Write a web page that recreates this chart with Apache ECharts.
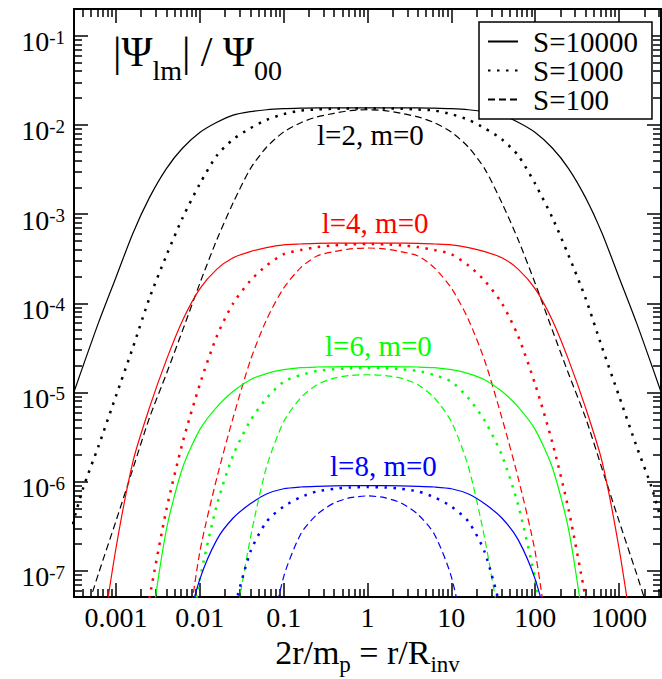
<!DOCTYPE html>
<html>
<head>
<meta charset="utf-8">
<script src="https://cdn.jsdelivr.net/npm/echarts@6/dist/echarts.min.js"></script>
<style>
html,body{margin:0;padding:0;background:#fff;}
#chart{width:662px;height:679px;}
</style>
</head>
<body>
<div id="chart"></div>
<script>
// ---------- data ----------
const xs = [0.00025, 0.0004, 0.000625, 0.001, 0.0016, 0.0025, 0.004, 0.00625, 0.01, 0.016, 0.025, 0.04, 0.0625, 0.1, 0.16, 0.25, 0.4, 0.625,
  1, 1.6, 2.5, 4, 6.25, 10, 16, 25, 40, 62.5, 100, 160, 250, 400, 625, 1000, 1600, 2500, 4000];

// l=2, m=0
const l2_S10000 = [5.37e-6, 1.91e-5, 6.19e-5, 1.95e-4, 6.15e-4, 1.52e-3, 3.24e-3, 5.51e-3, 8.22e-3, 0.0107, 0.0129, 0.0141, 0.0148, 0.0152, 0.0154, 0.0155, 0.0155, 0.0155,
  0.0155, 0.0155, 0.0155, 0.0155, 0.0154, 0.0152, 0.0148, 0.0141, 0.0129, 0.0107, 8.22e-3, 5.51e-3, 3.24e-3, 1.52e-3, 6.15e-4, 1.95e-4, 6.19e-5, 1.91e-5, 5.37e-6];
const l2_S1000 = [1.70e-7, 8.09e-7, 2.56e-6, 9.12e-6, 3.23e-5, 1.13e-4, 3.44e-4, 9.12e-4, 2.18e-3, 4.55e-3, 6.90e-3, 9.18e-3, 0.0114, 0.0132, 0.0145, 0.0149, 0.0152, 0.0153,
  0.0153, 0.0153, 0.0152, 0.0149, 0.0145, 0.0132, 0.0114, 9.18e-3, 6.90e-3, 4.55e-3, 2.18e-3, 9.12e-4, 3.44e-4, 1.13e-4, 3.23e-5, 9.12e-6, 2.56e-6, 8.09e-7, 1.70e-7];
const l2_S100 = [null, 2.57e-8, 9.55e-8, 3.61e-7, 1.41e-6, 5.15e-6, 1.62e-5, 5.00e-5, 1.67e-4, 5.19e-4, 1.34e-3, 3.22e-3, 5.62e-3, 8.32e-3, 0.0106, 0.0123, 0.0135, 0.0145,
  0.0148, 0.0145, 0.0135, 0.0123, 0.0106, 8.32e-3, 5.62e-3, 3.22e-3, 1.34e-3, 5.19e-4, 1.67e-4, 5.00e-5, 1.62e-5, 5.15e-6, 1.41e-6, 3.61e-7, 9.55e-8, 2.57e-8, null];

// l=4, m=0
const l4_S10000 = [null, null, 1.0e-8, 1.78e-7, 1.70e-6, 6.67e-6, 2.32e-5, 6.46e-5, 1.45e-4, 2.42e-4, 3.24e-4, 3.80e-4, 4.21e-4, 4.52e-4, 4.62e-4, 4.70e-4, 4.72e-4, 4.73e-4,
  4.73e-4, 4.73e-4, 4.72e-4, 4.70e-4, 4.62e-4, 4.52e-4, 4.21e-4, 3.80e-4, 3.24e-4, 2.42e-4, 1.45e-4, 6.46e-5, 2.32e-5, 6.67e-6, 1.70e-6, 1.78e-7, 1.0e-8, null, null];
const l4_S1000 = [null, null, null, null, 5.0e-9, 4.90e-8, 4.86e-7, 2.75e-6, 1.23e-5, 4.30e-5, 1.0e-4, 1.79e-4, 2.65e-4, 3.55e-4, 3.96e-4, 4.27e-4, 4.47e-4, 4.59e-4,
  4.62e-4, 4.59e-4, 4.47e-4, 4.27e-4, 3.96e-4, 3.55e-4, 2.65e-4, 1.79e-4, 1.0e-4, 4.30e-5, 1.23e-5, 2.75e-6, 4.86e-7, 4.90e-8, 5.0e-9, null, null, null, null];
const l4_S100 = [null, null, null, null, null, null, null, 7.9e-9, 1.62e-7, 1.11e-6, 5.22e-6, 2.27e-5, 6.56e-5, 1.48e-4, 2.51e-4, 3.39e-4, 3.80e-4, 4.07e-4,
  4.17e-4, 4.07e-4, 3.80e-4, 3.39e-4, 2.51e-4, 1.48e-4, 6.56e-5, 2.27e-5, 5.22e-6, 1.11e-6, 1.62e-7, 7.9e-9, null, null, null, null, null, null, null];

// l=6, m=0
const l6_S10000 = [null, null, null, null, null, 1.70e-8, 2.91e-7, 1.44e-6, 3.83e-6, 6.90e-6, 1.03e-5, 1.39e-5, 1.63e-5, 1.80e-5, 1.90e-5, 1.93e-5, 1.94e-5, 1.95e-5,
  1.95e-5, 1.95e-5, 1.94e-5, 1.93e-5, 1.90e-5, 1.80e-5, 1.63e-5, 1.39e-5, 1.03e-5, 6.90e-6, 3.83e-6, 1.44e-6, 2.91e-7, 1.70e-8, null, null, null, null, null];
const l6_S1000 = [null, null, null, null, null, null, null, 6.3e-9, 7.94e-8, 5.50e-7, 1.98e-6, 4.82e-6, 8.61e-6, 1.32e-5, 1.57e-5, 1.74e-5, 1.82e-5, 1.87e-5,
  1.88e-5, 1.87e-5, 1.82e-5, 1.74e-5, 1.57e-5, 1.32e-5, 8.61e-6, 4.82e-6, 1.98e-6, 5.50e-7, 7.94e-8, 6.3e-9, null, null, null, null, null, null, null];
const l6_S100 = [null, null, null, null, null, null, null, null, null, null, 1.86e-8, 2.30e-7, 1.46e-6, 4.70e-6, 8.73e-6, 1.22e-5, 1.45e-5, 1.55e-5,
  1.58e-5, 1.55e-5, 1.45e-5, 1.22e-5, 8.73e-6, 4.70e-6, 1.46e-6, 2.30e-7, 1.86e-8, null, null, null, null, null, null, null, null, null, null];

// l=8, m=0
const l8_S10000 = [null, null, null, null, null, null, null, 1.58e-8, 8.02e-8, 2.24e-7, 3.91e-7, 5.64e-7, 7.26e-7, 8.32e-7, 8.71e-7, 8.87e-7, 8.97e-7, 9.02e-7,
  9.02e-7, 9.02e-7, 8.97e-7, 8.87e-7, 8.71e-7, 8.32e-7, 7.26e-7, 5.64e-7, 3.91e-7, 2.24e-7, 8.02e-8, 1.58e-8, null, null, null, null, null, null, null];
const l8_S1000 = [null, null, null, null, null, null, null, null, null, null, 3.39e-8, 1.62e-7, 3.56e-7, 5.26e-7, 6.70e-7, 7.76e-7, 8.32e-7, 8.61e-7,
  8.71e-7, 8.61e-7, 8.32e-7, 7.76e-7, 6.70e-7, 5.26e-7, 3.56e-7, 1.62e-7, 3.39e-8, null, null, null, null, null, null, null, null, null, null];
const l8_S100 = [null, null, null, null, null, null, null, null, null, null, null, null, 1.12e-8, 8.57e-8, 2.59e-7, 4.29e-7, 5.77e-7, 6.61e-7,
  6.92e-7, 6.61e-7, 5.77e-7, 4.29e-7, 2.59e-7, 8.57e-8, 1.12e-8, null, null, null, null, null, null, null, null, null, null, null, null];

const sNames = ['S=10000', 'S=1000', 'S=100'];
const curveLabels = ['l=2, m=0', 'l=4, m=0', 'l=6, m=0', 'l=8, m=0'];

const xMajor = [0.001, 0.01, 0.1, 1, 10, 100, 1000];
const xTickLabels = ['0.001', '0.01', '0.1', '1', '10', '100', '1000'];
const yMajor = [1e-7, 1e-6, 1e-5, 1e-4, 1e-3, 1e-2, 1e-1];
const yExponents = ['-7', '-6', '-5', '-4', '-3', '-2', '-1'];

// ---------- layout / style ----------
const XMIN = 3.16228e-4, XMAX = 3162.28, YMIN = 5.09e-8, YMAX = 0.1995;
const SERIF = 'Liberation Serif';
const colors = ['#000000', '#ff0000', '#00ff00', '#0000ff'];
const lineTypes = [
  { type: 'solid', width: 1.2 },
  { type: [2.5, 6.5], width: 2.5 },
  { type: [7, 4], width: 1.2 }
];

function minorTicks(lo, hi, eMin, eMax) {
  const out = [];
  for (let e = eMin; e <= eMax; e++) {
    for (let k = 2; k <= 9; k++) {
      const v = k * Math.pow(10, e);
      if (v > lo && v < hi) out.push(v);
    }
  }
  return out;
}
const xMinor = minorTicks(XMIN, XMAX, -4, 3);
const yMinor = minorTicks(YMIN, YMAX, -8, -1);

function pairs(ys) {
  const out = [];
  xs.forEach((x, i) => { if (ys[i] != null) out.push([x, ys[i]]); });
  return out;
}

const groups = [
  [l2_S10000, l2_S1000, l2_S100],
  [l4_S10000, l4_S1000, l4_S100],
  [l6_S10000, l6_S1000, l6_S100],
  [l8_S10000, l8_S1000, l8_S100]
];

const series = [];
groups.forEach((g, li) => {
  g.forEach((ys, si) => {
    series.push({
      type: 'line',
      name: sNames[si],
      data: pairs(ys),
      xAxisIndex: 0,
      yAxisIndex: 0,
      showSymbol: false,
      symbol: 'none',
      smooth: 0.25,
      clip: true,
      lineStyle: { color: colors[li], width: lineTypes[si].width, type: lineTypes[si].type },
      itemStyle: { color: colors[li] },
      emphasis: { disabled: true },
      z: 2
    });
  });
});

function xLabel(v) {
  const i = xMajor.findIndex(t => Math.abs(Math.log10(t) - Math.log10(v)) < 1e-6);
  return i >= 0 ? xTickLabels[i] : '';
}
function yLabel(v) {
  const i = yMajor.findIndex(t => Math.abs(Math.log10(t) - Math.log10(v)) < 1e-6);
  return i >= 0 ? '{b|10}{s|' + yExponents[i] + '}' : '';
}

const tickLine = { color: '#000', width: 1.5 };
const frameLine = { show: true, onZero: false, lineStyle: { color: '#000', width: 2 } };

function xAxisDef(pos, major, withLabels) {
  return {
    type: 'log', position: pos, min: XMIN, max: XMAX, logBase: 10,
    axisLine: major ? frameLine : { show: false },
    axisTick: { show: true, inside: true, length: major ? 14 : 8, lineStyle: tickLine,
      customValues: major ? xMajor : xMinor },
    axisLabel: withLabels ? {
      show: true, customValues: xMajor, formatter: xLabel, margin: 6,
      color: '#000', fontSize: 28, fontFamily: SERIF
    } : { show: false },
    splitLine: { show: false }, minorTick: { show: false }, minorSplitLine: { show: false }
  };
}
function yAxisDef(pos, major, withLabels) {
  return {
    type: 'log', position: pos, min: YMIN, max: YMAX, logBase: 10,
    axisLine: major ? frameLine : { show: false },
    axisTick: { show: true, inside: true, length: major ? 14 : 8, lineStyle: tickLine,
      customValues: major ? yMajor : yMinor },
    axisLabel: withLabels ? {
      show: true, customValues: yMajor, formatter: yLabel, margin: 9,
      color: '#000', padding: [12, 0, 0, 0], fontSize: 28, fontFamily: SERIF,
      rich: {
        b: { fontSize: 28, lineHeight: 28, fontFamily: SERIF, color: '#000', verticalAlign: 'bottom' },
        s: { fontSize: 19, lineHeight: 19, fontFamily: SERIF, color: '#000', verticalAlign: 'top', padding: [0, 0, 16, 0] }
      }
    } : { show: false },
    splitLine: { show: false }, minorTick: { show: false }, minorSplitLine: { show: false }
  };
}

const xAxes = [
  xAxisDef('bottom', true, true),
  xAxisDef('bottom', false, false),
  xAxisDef('top', true, false),
  xAxisDef('top', false, false)
];
xAxes[0].name = '{m|2r/m}{s|p}{m| = r/R}{s|inv}';
xAxes[0].nameLocation = 'middle';
xAxes[0].nameGap = 27;
xAxes[0].nameTextStyle = {
  color: '#000', verticalAlign: 'top', fontSize: 34, fontFamily: SERIF,
  rich: {
    m: { fontSize: 34, lineHeight: 34, fontFamily: SERIF, color: '#000', verticalAlign: 'top' },
    s: { fontSize: 23, lineHeight: 23, fontFamily: SERIF, color: '#000', verticalAlign: 'top', padding: [17, 0, 0, 0] }
  }
};

const yAxes = [
  yAxisDef('left', true, true),
  yAxisDef('left', false, false),
  yAxisDef('right', true, false),
  yAxisDef('right', false, false)
];

const labelPos = [[317, 135], [321.7, 222.5], [325, 346], [330, 466]];
const graphics = curveLabels.map((t, i) => ({
  type: 'text', x: labelPos[i][0], y: labelPos[i][1], z: 10,
  style: { text: t, fill: colors[i], fontSize: 29, fontFamily: SERIF, verticalAlign: 'middle' }
}));
graphics.push({
  type: 'text', x: 113, y: 31, z: 10,
  style: {
    text: '{b|\u007C\u03A8}{s|lm}{b|\u007C / \u03A8}{s|00}',
    fill: '#000', fontSize: 42, fontFamily: SERIF, verticalAlign: 'top',
    rich: {
      b: { fontSize: 42, lineHeight: 42, fontFamily: SERIF, fill: '#000', verticalAlign: 'top' },
      s: { fontSize: 28, lineHeight: 28, fontFamily: SERIF, fill: '#000', verticalAlign: 'top', padding: [25, 0, 0, 0] }
    }
  }
});

const chart = echarts.init(document.getElementById('chart'), null, { renderer: 'svg' });
chart.setOption({
  animation: false,
  backgroundColor: '#ffffff',
  textStyle: { fontFamily: SERIF },
  grid: { left: 74, right: 1, top: 9, bottom: 82, containLabel: false, outerBoundsMode: 'none' },
  legend: {
    data: sNames, orient: 'vertical', left: 479, top: 22,
    itemWidth: 30, itemHeight: 14, itemGap: 0,
    padding: [5, 14, 5, 8],
    borderColor: '#000', borderWidth: 1.5, backgroundColor: '#ffffff',
    selectedMode: false,
    itemStyle: { opacity: 0, borderWidth: 0 },
    textStyle: { fontSize: 29, lineHeight: 28, fontFamily: SERIF, color: '#000', padding: [0, 0, 0, 10] },
    z: 20
  },
  xAxis: xAxes,
  yAxis: yAxes,
  series: series,
  graphic: graphics
});
</script>
</body>
</html>
